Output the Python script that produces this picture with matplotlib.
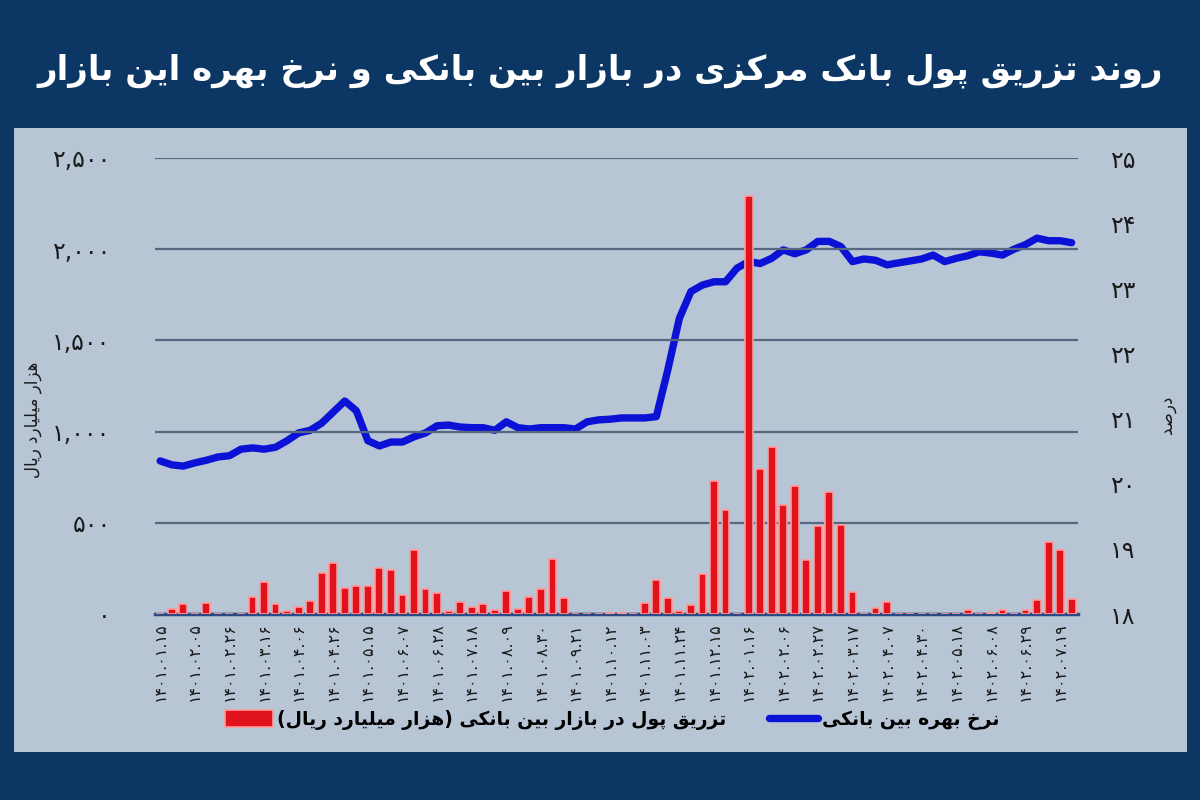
import matplotlib
matplotlib.use('Agg')
import matplotlib.pyplot as plt
from matplotlib.patches import Rectangle
import numpy as np

# weekly data, labels every 3rd week
tick_dates = ['1401.01.15', '1401.02.05', '1401.02.26', '1401.03.16', '1401.04.06',
              '1401.04.26', '1401.05.15', '1401.06.07', '1401.06.28', '1401.07.18',
              '1401.08.09', '1401.08.30', '1401.09.21', '1401.10.12', '1401.11.03',
              '1401.11.24', '1401.12.15', '1402.01.16', '1402.02.06', '1402.02.27',
              '1402.03.17', '1402.04.07', '1402.04.30', '1402.05.18', '1402.06.08',
              '1402.06.29', '1402.07.19']

# money injection (thousand billion rial)
injection = [0, 27, 55, 0, 60, 0, 0, 0, 93, 177,
             55, 16, 38, 73, 225, 279, 142, 153, 153, 250,
             241, 104, 352, 137, 115, 16, 66, 38, 55, 22,
             126, 27, 93, 137, 301, 88, 0, 0, 0, 5,
             5, 0, 60, 184, 90, 15, 51, 221, 731, 568,
             0, 2290, 797, 916, 599, 700, 298, 481, 667, 490,
             119, 0, 33, 66, 0, 0, 0, 0, 0, 0,
             24, 0, 5, 24, 0, 20, 78, 393, 349, 84]

# interbank rate (%)
rate = [20.35, 20.29, 20.27, 20.32, 20.36, 20.41, 20.43, 20.53, 20.55, 20.53,
        20.56, 20.66, 20.78, 20.82, 20.93, 21.10, 21.27, 21.12, 20.66, 20.58,
        20.64, 20.64, 20.72, 20.78, 20.89, 20.90, 20.87, 20.86, 20.86, 20.82,
        20.95, 20.86, 20.84, 20.86, 20.86, 20.86, 20.84, 20.95, 20.98, 20.99,
        21.01, 21.01, 21.01, 21.03, 21.75, 22.54, 22.95, 23.05, 23.10, 23.10,
        23.31, 23.41, 23.38, 23.46, 23.59, 23.53, 23.59, 23.72, 23.72, 23.64,
        23.41, 23.45, 23.43, 23.36, 23.39, 23.42, 23.45, 23.51, 23.41, 23.46,
        23.50, 23.56, 23.54, 23.51, 23.60, 23.67, 23.77, 23.73, 23.73, 23.70]

left_ticks = [0, 500, 1000, 1500, 2000, 2500]
right_ticks = [18, 19, 20, 21, 22, 23, 24, 25]

title = 'روند تزریق پول بانک مرکزی در بازار بین بانکی و نرخ بهره این بازار'
bar_name = 'تزریق پول در بازار بین بانکی (هزار میلیارد ریال)'
line_name = 'نرخ بهره بین بانکی'
left_name = 'هزار میلیارد ریال'
right_name = 'درصد'

# minimal persian shaping (matplotlib has no complex text layout)
FORMS = {
    '\u0627': ('\uFE8D', '\uFE8E', None, None),
    '\u0628': ('\uFE8F', '\uFE90', '\uFE91', '\uFE92'),
    '\u067E': ('\uFB56', '\uFB57', '\uFB58', '\uFB59'),
    '\u062A': ('\uFE95', '\uFE96', '\uFE97', '\uFE98'),
    '\u062E': ('\uFEA5', '\uFEA6', '\uFEA7', '\uFEA8'),
    '\u062F': ('\uFEA9', '\uFEAA', None, None),
    '\u0631': ('\uFEAD', '\uFEAE', None, None),
    '\u0632': ('\uFEAF', '\uFEB0', None, None),
    '\u0635': ('\uFEB9', '\uFEBA', '\uFEBB', '\uFEBC'),
    '\u0642': ('\uFED5', '\uFED6', '\uFED7', '\uFED8'),
    '\u0644': ('\uFEDD', '\uFEDE', '\uFEDF', '\uFEE0'),
    '\u0645': ('\uFEE1', '\uFEE2', '\uFEE3', '\uFEE4'),
    '\u0646': ('\uFEE5', '\uFEE6', '\uFEE7', '\uFEE8'),
    '\u0647': ('\uFEE9', '\uFEEA', '\uFEEB', '\uFEEC'),
    '\u0648': ('\uFEED', '\uFEEE', None, None),
    '\u06A9': ('\uFB8E', '\uFB8F', '\uFB90', '\uFB91'),
    '\u06CC': ('\uFBFC', '\uFBFD', '\uFBFE', '\uFBFF'),
}


def fa(s):
    out = []
    for i, c in enumerate(s):
        if c not in FORMS:
            out.append(c)
            continue
        prev = s[i-1] if i > 0 else ''
        nxt = s[i+1] if i < len(s)-1 else ''
        jp = prev in FORMS and FORMS[prev][2] is not None
        jn = FORMS[c][2] is not None and nxt in FORMS
        f = FORMS[c]
        if jp and jn:
            out.append(f[3])
        elif jp:
            out.append(f[1])
        elif jn:
            out.append(f[2])
        else:
            out.append(f[0])
    r = ''.join(out)[::-1]
    return r.translate(str.maketrans('()', ')('))


digits = str.maketrans('0123456789', '۰۱۲۳۴۵۶۷۸۹')


def fnum(s):
    return s.translate(digits)


plt.rcParams['font.family'] = ['DejaVu Sans']

fig = plt.figure(figsize=(12, 8), dpi=100, facecolor='#0c3764')
fig.patches.append(Rectangle((14/1200, 48/800), 1173/1200, 624/800,
                             transform=fig.transFigure, facecolor='#b7c5d5',
                             edgecolor='none', zorder=-5))

ax = fig.add_axes([155/1200, 186/800, 923/1200, 456/800])
ax2 = ax.twinx()
ax.set_zorder(ax2.get_zorder() + 1)
ax.patch.set_visible(False)
ax2.patch.set_visible(False)

x = np.arange(len(injection))
bars = ax.bar(x, injection, width=0.68, color='#e0121b', edgecolor='#ff9c9c',
              linewidth=1.2, label=fa(bar_name), zorder=3)
line, = ax2.plot(x, rate, color='#0b12d6', linewidth=5.3, solid_capstyle='round',
                 solid_joinstyle='round', label=fa(line_name))

ax.set_xlim(-0.45, 79.55)
ax.set_ylim(0, 2500)
ax2.set_ylim(18, 25)

ax.set_yticks(left_ticks)
ax.set_yticklabels([fnum(f'{v:,}') for v in left_ticks], fontsize=17, color='#1a1a1a')
ax2.set_yticks(right_ticks)
ax2.set_yticklabels([fnum(str(v)) for v in right_ticks], fontsize=17, color='#1a1a1a')
ax.set_xticks(x[::3])
ax.set_xticklabels([fnum(d) for d in tick_dates], rotation=90, fontsize=11.5, color='#1a1a1a')

ax.tick_params(axis='y', length=0, pad=32)
ax2.tick_params(axis='y', length=0, pad=23)
ax.tick_params(axis='x', length=0, pad=6)

ax.grid(True, axis='y', color='#55687f', linewidth=1.6)
ax.set_axisbelow(True)
for a in (ax, ax2):
    for s in ('top', 'left', 'right', 'bottom'):
        a.spines[s].set_visible(False)
ax.spines['bottom'].set_visible(True)
ax.spines['bottom'].set_color('#2d4a86')
ax.spines['bottom'].set_linewidth(2.5)

ax.set_ylabel(fa(left_name), fontsize=12, color='#1a1a1a')
ax.yaxis.set_label_coords(-0.122, 0.425)
ax2.set_ylabel(fa(right_name), fontsize=12, color='#1a1a1a', rotation=90)
ax2.yaxis.set_label_coords(1.087, 0.436)

fig.text(0.5, 0.912, fa(title), color='white', fontsize=24.5, fontweight='bold',
         ha='center', va='center')

fig.legend([bars, line], [fa(bar_name), fa(line_name)], loc='center',
           bbox_to_anchor=(0.51, 0.1), ncol=2, frameon=False,
           prop={'size': 13.5, 'weight': 'bold'}, handlelength=2.6,
           handleheight=1.0, columnspacing=2.3, handletextpad=0.2)

fig.savefig('out.png', dpi=100, facecolor=fig.get_facecolor())
